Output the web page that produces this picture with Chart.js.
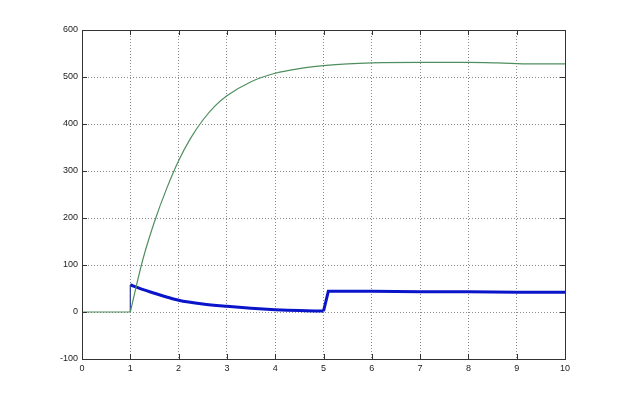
<!DOCTYPE html>
<html><head><meta charset="utf-8">
<script src="https://cdn.jsdelivr.net/npm/chart.js@4/dist/chart.umd.min.js"></script>
<style>html,body{margin:0;padding:0;background:#fff}#wrap{width:624px;height:404px}</style>
</head><body><div id="wrap"><canvas id="c" width="624" height="404"></canvas></div>
<script>
const xTicks = [0,1,2,3,4,5,6,7,8,9,10];
const yTicks = [-100,0,100,200,300,400,500,600];
// green series: flat part then rising response
const greenFlatT = [0, 1];
const greenFlatV = [0, 0];
const greenT = [1, 1.25, 1.5, 1.75, 2, 2.25, 2.5, 2.75, 3, 3.5, 4, 4.5, 5, 5.5, 6, 7, 8, 8.6, 9.3, 10];
const greenV = [0, 108, 192, 262, 322, 370, 408, 438, 460, 490, 508, 518, 524, 528, 530, 531, 531, 530, 528, 528];
// blue series: jump at t=1, decay, step at t=5
const blueJumpT = [1, 1];
const blueJumpV = [0, 58];
const blueDecayT = [1, 1.25, 1.5, 1.75, 2, 2.5, 3, 3.5, 4, 4.5, 5];
const blueDecayV = [58, 48, 40, 32, 25, 17, 12, 8, 5, 3, 2];
const blueStepT = [5, 5.1, 6, 7, 8, 9, 10];
const blueStepV = [2, 44, 44, 43, 43, 42, 42];

const zip = (t, v) => t.map((x, i) => ({x: x, y: v[i]}));

const boxPlugin = {
  id: 'box',
  afterDraw(chart) {
    const {ctx, chartArea: a, scales} = chart;
    ctx.save();
    ctx.strokeStyle = '#333';
    ctx.lineWidth = 1;
    ctx.strokeRect(a.left + 0.5, a.top + 0.5, a.right - a.left, a.bottom - a.top);
    ctx.beginPath();
    xTicks.forEach(v => {
      const p = Math.round(scales.x.getPixelForValue(v)) + 0.5;
      ctx.moveTo(p, a.bottom); ctx.lineTo(p, a.bottom - 5);
      ctx.moveTo(p, a.top); ctx.lineTo(p, a.top + 5);
    });
    yTicks.forEach(v => {
      const p = Math.round(scales.y.getPixelForValue(v)) + 0.5;
      ctx.moveTo(a.left, p); ctx.lineTo(a.left + 5, p);
      ctx.moveTo(a.right, p); ctx.lineTo(a.right - 5, p);
    });
    ctx.stroke();
    ctx.restore();
  }
};

const G = '#4f8f5f', B = '#0a14c8';
new Chart(document.getElementById('c'), {
  type: 'line',
  data: {
    datasets: [
      {data: zip(greenFlatT, greenFlatV), borderColor: G, borderWidth: 1.2, pointRadius: 0, tension: 0},
      {data: zip(greenT, greenV), borderColor: G, borderWidth: 1.2, pointRadius: 0, cubicInterpolationMode: 'monotone'},
      {data: zip(blueJumpT, blueJumpV), borderColor: '#2a3a9a', borderWidth: 1.2, pointRadius: 0, tension: 0},
      {data: zip(blueDecayT, blueDecayV), borderColor: B, borderWidth: 3, pointRadius: 0, cubicInterpolationMode: 'monotone'},
      {data: zip(blueStepT, blueStepV), borderColor: B, borderWidth: 3, pointRadius: 0, tension: 0}
    ]
  },
  options: {
    responsive: false,
    animation: false,
    layout: {padding: {top: 30, right: 59, left: 0, bottom: 0}},
    plugins: {legend: {display: false}, tooltip: {enabled: false}},
    scales: {
      x: {
        type: 'linear', min: 0, max: 10,
        afterFit: s => { s.height = 45; },
        afterBuildTicks: s => { s.ticks = xTicks.map(v => ({value: v})); },
        border: {display: false, dash: [1, 2]},
        grid: {color: '#8a8a8a', lineWidth: 1, drawTicks: false, tickLength: 0},
        ticks: {padding: 4, color: '#222', font: {family: 'Liberation Sans', size: 9}, maxRotation: 0}
      },
      y: {
        min: -100, max: 600,
        afterFit: s => { s.width = 82; },
        afterBuildTicks: s => { s.ticks = yTicks.map(v => ({value: v})); },
        border: {display: false, dash: [1, 2]},
        grid: {color: '#8a8a8a', lineWidth: 1, drawTicks: false, tickLength: 0},
        ticks: {padding: 4, color: '#222', font: {family: 'Liberation Sans', size: 9}}
      }
    }
  },
  plugins: [boxPlugin]
});
</script>
</body></html>
